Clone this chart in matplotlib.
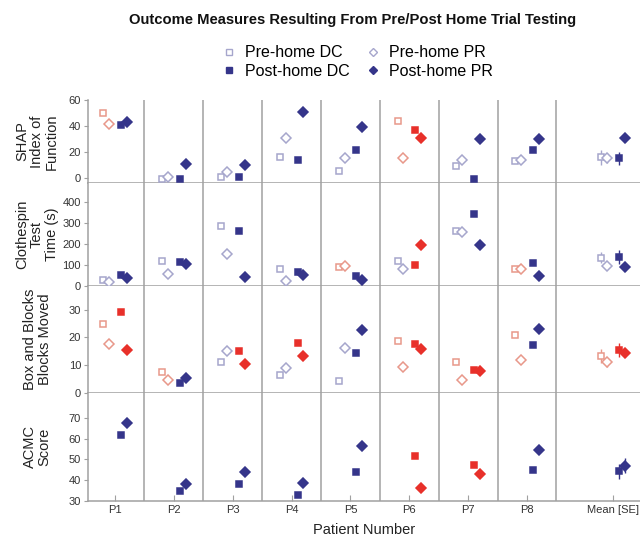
import matplotlib
matplotlib.use('Agg')
import matplotlib.pyplot as plt
from matplotlib.lines import Line2D
import numpy as np

plt.rcParams['font.family'] = ['Liberation Sans', 'DejaVu Sans']

patients = ['P1', 'P2', 'P3', 'P4', 'P5', 'P6', 'P7', 'P8', 'Mean [SE]']
series = ['Pre-home DC', 'Pre-home PR', 'Post-home DC', 'Post-home PR']

# values per patient (P1..P8, Mean): [pre DC, pre PR, post DC, post PR]
shap = [[50, 41.5, 41, 42.7], [-1, 1, -1, 11], [1, 4.4, 1, 10], [16.2, 31, 14, 51],
        [5.4, 15, 21.4, 39], [44, 15, 37, 31], [9, 14, -1, 30], [13, 13.6, 21.4, 30],
        [15.7, 15.5, 15, 31]]
shap_se = [6, 4, 5, 3]
shap_col = ['rrbb', 'bbbb', 'bbbb', 'bbbb', 'bbbb', 'rrrr', 'bbbb', 'bbbb', 'bbbb']

clothespin = [[30, 19, 51, 38], [117, 56, 114, 106], [286, 151, 262, 43], [79, 24, 67, 51],
              [92, 95, 48, 30], [119, 79, 100, 195], [262, 259, 341, 195], [79, 83, 111, 48],
              [135, 95, 138, 90]]
clothespin_se = [26, 15, 33, 18]
clothespin_col = ['bbbb', 'bbbb', 'bbbb', 'bbbb', 'rrbb', 'bbrr', 'bbbb', 'rrbb', 'bbbb']

boxblocks = [[24.7, 17.8, 29.2, 15.5], [7.7, 4.6, 3.6, 5.4], [11.3, 15, 15, 10.6], [6.6, 9, 18, 13.3],
             [4.3, 16.2, 14.4, 22.6], [18.7, 9.5, 17.8, 16], [11.3, 4.6, 8.2, 8], [20.8, 12, 17.2, 23],
             [13.2, 11, 15.4, 14.3]]
boxblocks_se = [2.5, 1.5, 2.5, 1.5]
boxblocks_col = ['rrrr', 'rrbb', 'bbrr', 'bbrr', 'bbbb', 'rrrr', 'rrrr', 'rrbb', 'rrrr']

acmc = [[None, None, 62, 67.6], [None, None, 34.6, 38], [None, None, 38, 43.8], [None, None, 32.9, 38.8],
        [None, None, 43.9, 56.4], [None, None, 51.9, 36.2], [None, None, 47.1, 42.8], [None, None, 44.7, 54.5],
        [None, None, 44.4, 47]]
acmc_se = [0, 0, 3.6, 3.6]
acmc_col = ['bbbb', 'bbbb', 'bbbb', 'bbbb', 'bbbb', 'bbrr', 'bbrr', 'bbbb', 'bbbb']

rows = [
    ('SHAP\nIndex of\nFunction', shap, shap_se, shap_col, (-4, 60), [0, 20, 40, 60]),
    ('Clothespin\nTest\nTime (s)', clothespin, clothespin_se, clothespin_col, (0, 490), [0, 100, 200, 300, 400]),
    ('Box and Blocks\nBlocks Moved', boxblocks, boxblocks_se, boxblocks_col, (0, 38.5), [0, 10, 20, 30]),
    ('ACMC\nScore', acmc, acmc_se, acmc_col, (30, 82), [30, 40, 50, 60, 70]),
]

navy = '#35358a'
red = '#e8302a'
salmon = '#e8988a'
lavender = '#a6a6cc'
gray = '#a0a0a0'

xpos = [1, 2, 3, 4, 5, 6, 7, 8, 9.46]
offsets = [-0.2, -0.1, 0.1, 0.2]
markers = ['s', 'D', 's', 'D']
sizes = [5, 5, 5, 5.5]

fig = plt.figure(figsize=(6.4, 5.39), dpi=100)
gs = fig.add_gridspec(4, 1, left=88/640, right=1.0, top=1-100/539, bottom=1-501/539,
                      height_ratios=[83, 103, 107, 108], hspace=0)

for r, (label, vals, se, cols, ylim, yticks) in enumerate(rows):
    ax = fig.add_subplot(gs[r])
    for k in range(8):
        ax.axvline(k + 1.5, color=gray, lw=1.1, zorder=1)
    for i, x in enumerate(xpos):
        for s in range(4):
            v = vals[i][s]
            if v is None:
                continue
            c = cols[i][s]
            filled = s >= 2
            if filled:
                col = red if c == 'r' else navy
                fc = col
            else:
                col = salmon if c == 'r' else lavender
                fc = 'white'
            if i == 8 and se[s] > 0:
                ax.errorbar(x + offsets[s], v, yerr=se[s], fmt='none', ecolor=col, elinewidth=1, capsize=0, zorder=2)
            ax.plot(x + offsets[s], v, marker=markers[s], ms=sizes[s], mfc=fc, mec=col, mew=1.1,
                    ls='none', zorder=3)
    ax.set_xlim(0.54, 9.92)
    ax.set_ylim(*ylim)
    ax.set_yticks(yticks)
    for sp in ['top', 'right']:
        ax.spines[sp].set_visible(False)
    for sp in ['left', 'bottom']:
        ax.spines[sp].set_color(gray)
        ax.spines[sp].set_linewidth(1.1)
    ax.tick_params(axis='y', direction='out', length=3, color=gray, labelsize=8, labelcolor='#333333', pad=2)
    ax.set_xticks(xpos)
    if r == 3:
        ax.set_xticklabels(patients)
        ax.tick_params(axis='x', direction='in', length=4, color=gray, labelsize=8, labelcolor='#333333', pad=3)
        ax.set_xlabel('Patient Number', fontsize=10.5, color='#222222', labelpad=6)
    else:
        ax.set_xticklabels([])
        ax.tick_params(axis='x', length=0)
    bb = ax.get_position()
    fig.text(0.058, (bb.y0 + bb.y1) / 2, label, rotation=90, ha='center', va='center',
             multialignment='center', fontsize=10.5, color='#222222', linespacing=1.1)

fig.suptitle('Outcome Measures Resulting From Pre/Post Home Trial Testing', x=0.551, y=1-20/539,
             va='center', fontsize=10.6, fontweight='bold', color='#111111')

handles = [
    Line2D([], [], marker='s', ls='none', ms=4, mfc='white', mec=lavender, mew=1),
    Line2D([], [], marker='s', ls='none', ms=4, mfc=navy, mec=navy),
    Line2D([], [], marker='D', ls='none', ms=4, mfc='white', mec=lavender, mew=1),
    Line2D([], [], marker='D', ls='none', ms=4, mfc=navy, mec=navy),
]
labels = ['Pre-home DC', 'Post-home DC', 'Pre-home PR', 'Post-home PR']
fig.legend(handles, labels, ncol=2, loc='center', bbox_to_anchor=(357/640, 1-62/539), frameon=False,
           fontsize=11.5, handlelength=1.0, handletextpad=0.5, columnspacing=1.0, labelspacing=0.2)

fig.savefig('out.png', dpi=100)
